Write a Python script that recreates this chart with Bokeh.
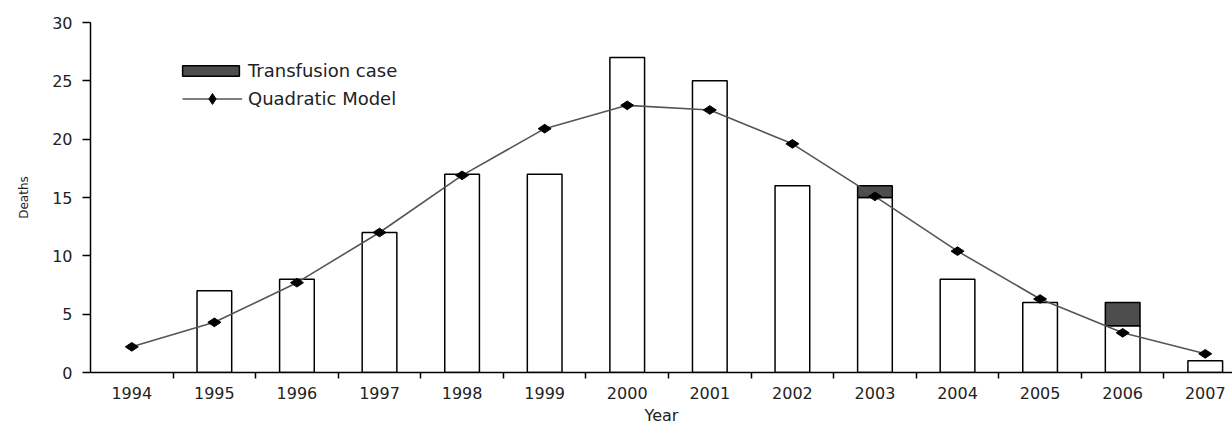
import math
from bokeh.plotting import figure
from bokeh.models import Range1d, FixedTicker, Legend, LegendItem
from bokeh.embed import file_html
from bokeh.resources import INLINE

# ---- data ----
years = [1994, 1995, 1996, 1997, 1998, 1999, 2000, 2001, 2002, 2003, 2004, 2005, 2006, 2007]
deaths = [0, 7, 8, 12, 17, 17, 27, 25, 16, 15, 8, 6, 4, 1]          # non-transfusion deaths
transfusion = [0, 0, 0, 0, 0, 0, 0, 0, 0, 1, 0, 0, 2, 0]            # transfusion cases stacked on top
model = [2.2, 4.3, 7.7, 12.0, 16.9, 20.9, 22.9, 22.5, 19.6, 15.1, 10.4, 6.3, 3.4, 1.6]
y_ticks = [0, 5, 10, 15, 20, 25, 30]

FONT = "DejaVu Sans"
TXT = "#222222"

p = figure(width=1232, height=427,
           x_range=Range1d(1993.5, 2007.33), y_range=Range1d(0, 30),
           output_backend="svg", toolbar_location=None,
           min_border_left=90, min_border_right=0, min_border_top=22, min_border_bottom=52)
p.outline_line_color = None
p.xgrid.visible = False
p.ygrid.visible = False
p.background_fill_color = "white"

# bars (only years with a non-zero count get a bar)
bx = [y for y, d in zip(years, deaths) if d > 0]
bt = [d for d in deaths if d > 0]
bars = p.vbar(x=bx, top=bt, width=0.42, fill_color="white",
              line_color="black", line_width=1.5)
tx = [y for y, t in zip(years, transfusion) if t > 0]
tb = [d for d, t in zip(deaths, transfusion) if t > 0]
tt = [d + t for d, t in zip(deaths, transfusion) if t > 0]
tbars = p.vbar(x=tx, bottom=tb, top=tt, width=0.42, fill_color="#4d4d4d",
               line_color="black", line_width=1.5)

# model curve
ln = p.line(years, model, line_color="#555555", line_width=1.6)
pts = p.scatter(years, model, marker="diamond", size=13, angle=math.pi / 2,
                fill_color="black", line_color="black")

# x axis
xa = p.xaxis[0]
xa.ticker = FixedTicker(ticks=years, minor_ticks=[y + 0.5 for y in years[:-1]])
xa.major_tick_out = 0
xa.major_tick_in = 0
xa.minor_tick_out = 6
xa.minor_tick_in = 0
xa.minor_tick_line_color = "black"
xa.minor_tick_line_width = 1.5
xa.axis_line_color = "black"
xa.axis_line_width = 1.5
xa.major_label_text_font = FONT
xa.major_label_text_font_size = "16px"
xa.major_label_text_color = TXT
xa.major_label_standoff = 8
xa.axis_label = "Year"
xa.axis_label_text_font = FONT
xa.axis_label_text_font_size = "16px"
xa.axis_label_text_font_style = "normal"
xa.axis_label_text_color = TXT
xa.axis_label_standoff = 4

# y axis
ya = p.yaxis[0]
ya.ticker = FixedTicker(ticks=y_ticks)
ya.major_tick_out = 8
ya.major_tick_in = 0
ya.minor_tick_out = 0
ya.minor_tick_in = 0
ya.major_tick_line_width = 1.5
ya.axis_line_color = "black"
ya.axis_line_width = 1.5
ya.major_label_text_font = FONT
ya.major_label_text_font_size = "16px"
ya.major_label_text_color = TXT
ya.major_label_standoff = 10
ya.axis_label = "Deaths"
ya.axis_label_text_font = FONT
ya.axis_label_text_font_size = "12px"
ya.axis_label_text_font_style = "normal"
ya.axis_label_text_color = TXT
ya.axis_label_standoff = 18

# legends (two, so each glyph gets its own size)
leg1 = Legend(items=[LegendItem(label="Transfusion case", renderers=[tbars])],
              location=(85, 291), padding=0, margin=0,
              glyph_width=71, glyph_height=13, label_standoff=2,
              label_text_font=FONT, label_text_font_size="18px", label_text_color=TXT,
              border_line_alpha=0, background_fill_alpha=0)
leg2 = Legend(items=[LegendItem(label="Quadratic Model", renderers=[ln, pts])],
              location=(92, 260), padding=0, margin=0,
              glyph_width=60, glyph_height=27, label_standoff=6,
              label_text_font=FONT, label_text_font_size="18px", label_text_color=TXT,
              border_line_alpha=0, background_fill_alpha=0)
p.add_layout(leg1)
p.add_layout(leg2)

open("out.html", "w").write(file_html(p, INLINE))
